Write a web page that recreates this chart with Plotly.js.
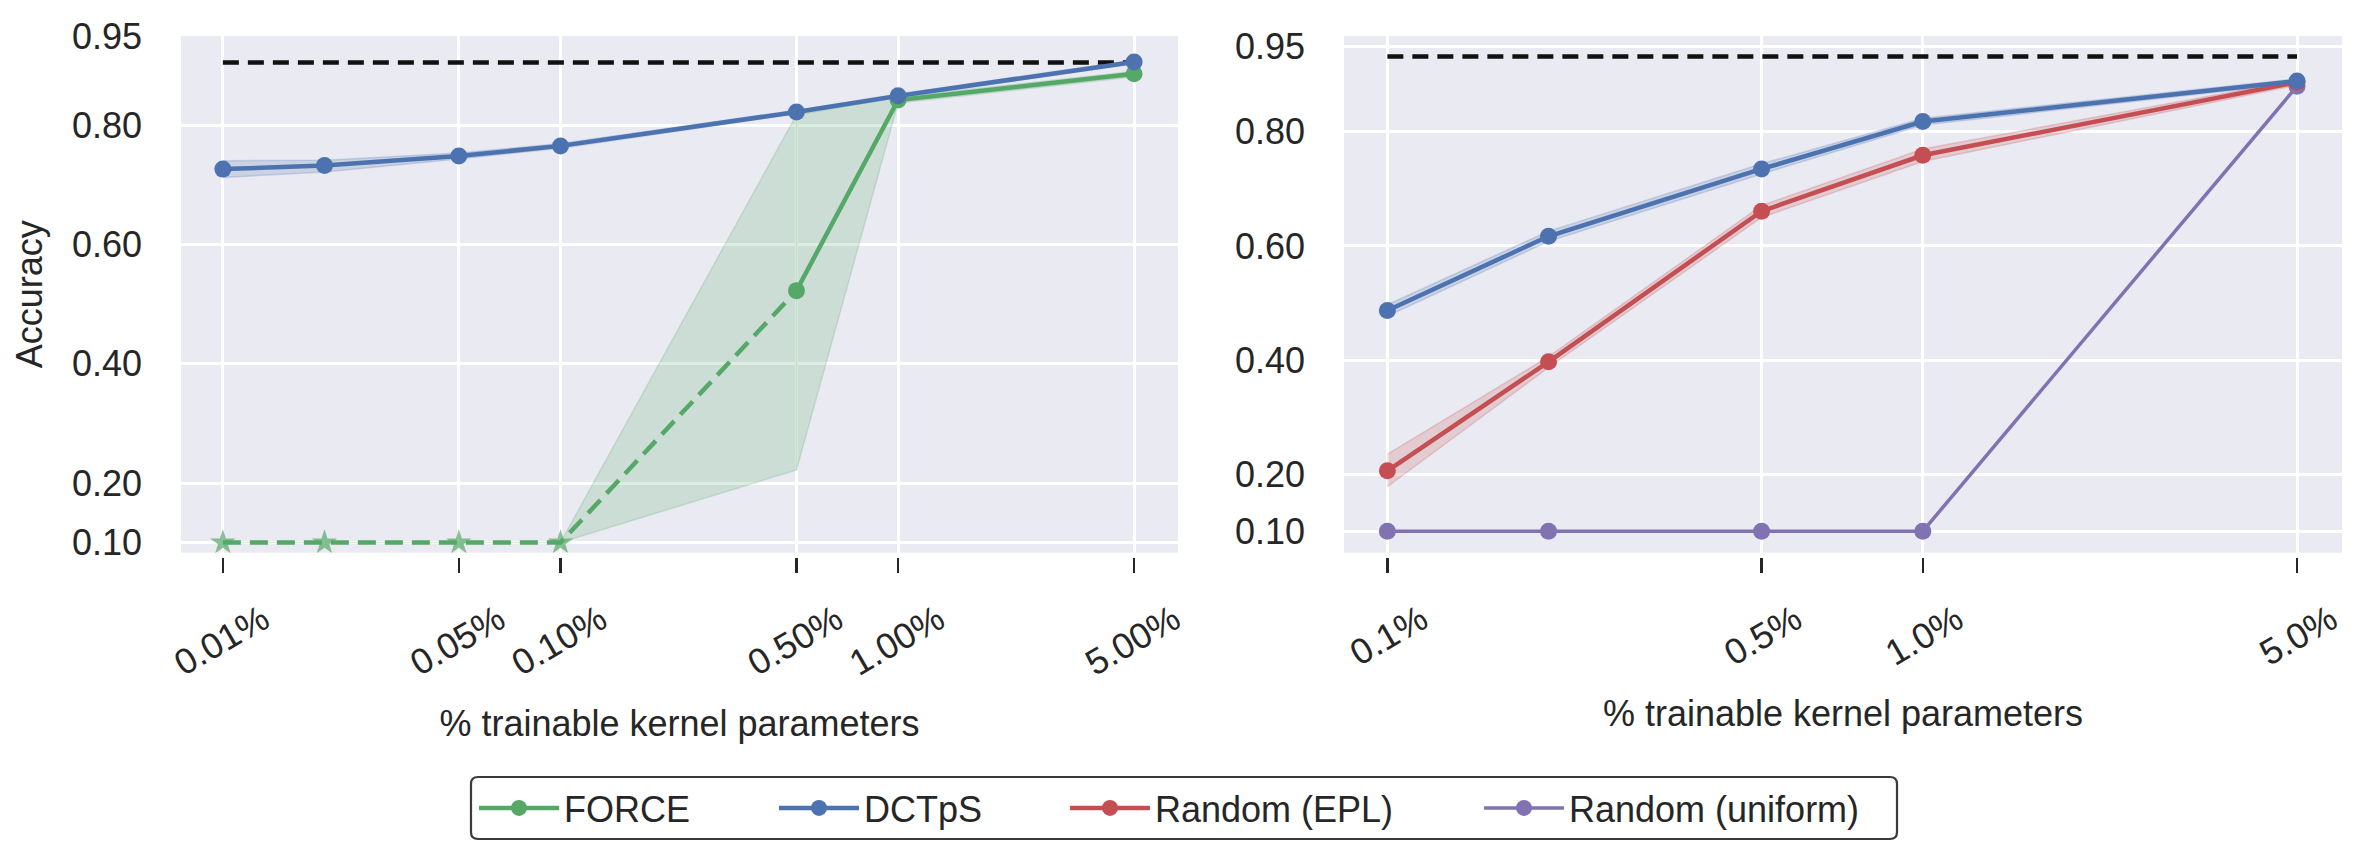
<!DOCTYPE html>
<html>
<head>
<meta charset="utf-8">
<script src="https://cdn.plot.ly/plotly-3.0.1.min.js"></script>
<style>
  html, body { margin: 0; padding: 0; background: #fff; }
  #chart { width: 2362px; height: 859px; }
</style>
</head>
<body>
<div id="chart"></div>
<script>
// ---- data ----
const leftX = [0.01, 0.02, 0.05, 0.1, 0.5, 1, 5];
const rightX = [0.1, 0.2, 0.5, 1, 5];

const leftTickVals = [0.01, 0.05, 0.1, 0.5, 1, 5];
const leftTickText = ['0.01%', '0.05%', '0.10%', '0.50%', '1.00%', '5.00%'];
const rightTickVals = [0.1, 0.5, 1, 5];
const rightTickText = ['0.1%', '0.5%', '1.0%', '5.0%'];
const yTickVals = [0.1, 0.2, 0.4, 0.6, 0.8, 0.95];
const yTickText = ['0.10', '0.20', '0.40', '0.60', '0.80', '0.95'];

// left panel
const leftDense = 0.906;
const forceMean = [0.1, 0.1, 0.1, 0.1, 0.523, 0.843, 0.887];
const forceLow  = [0.1, 0.1, 0.1, 0.1, 0.222, 0.838, 0.882];
const forceHigh = [0.1, 0.1, 0.1, 0.1, 0.818, 0.848, 0.891];
const forceFirstOk = 4; // from this point on FORCE trains (solid line)
const dctLeftMean = [0.727, 0.733, 0.749, 0.766, 0.823, 0.850, 0.907];
const dctLeftLow  = [0.713, 0.722, 0.744, 0.762, 0.820, 0.847, 0.904];
const dctLeftHigh = [0.741, 0.742, 0.754, 0.770, 0.826, 0.853, 0.910];

// right panel
const rightDense = 0.932;
const dctRightMean = [0.487, 0.617, 0.735, 0.818, 0.889];
const dctRightLow  = [0.477, 0.608, 0.726, 0.812, 0.885];
const dctRightHigh = [0.497, 0.626, 0.744, 0.824, 0.893];
const eplMean = [0.206, 0.397, 0.661, 0.759, 0.887];
const eplLow  = [0.178, 0.387, 0.650, 0.748, 0.882];
const eplHigh = [0.235, 0.406, 0.671, 0.770, 0.891];
const uniformMean = [0.1, 0.1, 0.1, 0.1, 0.880];

// ---- style ----
const INK = '#262626';
const FONT = 'Liberation Sans, Arial, sans-serif';
const C = {
    green: [85, 168, 104],
    blue: [76, 114, 176],
    red: [196, 78, 82],
    purple: [129, 114, 178]
};
const rgba = (c, a) => `rgba(${c[0]},${c[1]},${c[2]},${a})`;
const LW = 4.5;
const MS = 17;

function band(x, lo, hi, col, xa, ya) {
    return {
        x: x.concat(x.slice().reverse()),
        y: lo.concat(hi.slice().reverse()),
        xaxis: xa, yaxis: ya,
        type: 'scatter', mode: 'lines',
        fill: 'toself',
        fillcolor: rgba(col, 0.2),
        line: { color: rgba(col, 0.22), width: 1.5 },
        hoverinfo: 'skip', showlegend: false
    };
}

function series(x, y, col, xa, ya, extra) {
    return Object.assign({
        x: x, y: y, xaxis: xa, yaxis: ya,
        type: 'scatter', mode: 'lines+markers',
        line: { color: rgba(col, 1), width: LW },
        marker: { color: rgba(col, 1), size: MS, line: { width: 0 } },
        showlegend: false
    }, extra || {});
}

function flat(x, v, xa, ya) {
    return {
        x: [x[0], x[x.length - 1]], y: [v, v], xaxis: xa, yaxis: ya,
        type: 'scatter', mode: 'lines',
        line: { color: '#111', width: LW, dash: '16px,9px' },
        showlegend: false, hoverinfo: 'skip'
    };
}

const k = forceFirstOk;
const failX = leftX.slice(0, k + 1);
const okX = leftX.slice(k);

const data = [
    // left
    band(leftX, dctLeftLow, dctLeftHigh, C.blue, 'x', 'y'),
    band(failX, forceLow.slice(0, k + 1), forceHigh.slice(0, k + 1), C.green, 'x', 'y'),
    band(okX, forceLow.slice(k), forceHigh.slice(k), C.green, 'x', 'y'),
    flat(leftX, leftDense, 'x', 'y'),
    series(failX, forceMean.slice(0, k + 1), C.green, 'x', 'y', {
        line: { color: rgba(C.green, 1), width: LW, dash: '18px,9px' },
        marker: {
            color: rgba(C.green, 1), symbol: 'star', line: { width: 0 },
            size: failX.map((_, i) => i < k ? 19 : 0)
        }
    }),
    series(okX, forceMean.slice(k), C.green, 'x', 'y', { name: 'FORCE', showlegend: true, legend: 'legend' }),
    series(leftX, dctLeftMean, C.blue, 'x', 'y', { name: 'DCTpS', showlegend: true, legend: 'legend2' }),
    // right
    band(rightX, dctRightLow, dctRightHigh, C.blue, 'x2', 'y2'),
    band(rightX, eplLow, eplHigh, C.red, 'x2', 'y2'),
    flat(rightX, rightDense, 'x2', 'y2'),
    series(rightX, uniformMean, C.purple, 'x2', 'y2', {
        name: 'Random (uniform)', showlegend: true, legend: 'legend4',
        line: { color: rgba(C.purple, 1), width: 3.5 }
    }),
    series(rightX, eplMean, C.red, 'x2', 'y2', { name: 'Random (EPL)', showlegend: true, legend: 'legend3' }),
    series(rightX, dctRightMean, C.blue, 'x2', 'y2')
];

const W = 2362, H = 859;
const yDom = [1 - 552.7 / H, 1 - 36 / H];

const xBase = {
    type: 'log',
    showgrid: true, gridcolor: '#ffffff', gridwidth: 3,
    zeroline: false, showline: false,
    ticks: 'outside', ticklen: 15, tickwidth: 2.5, tickcolor: INK,
    tickangle: -30, ticklabelstandoff: 12,
    tickfont: { family: FONT, size: 36, color: INK },
    anchor: 'free', position: yDom[0] - 4 / H,
    title: {
        text: '% trainable kernel parameters',
        font: { family: FONT, size: 36, color: INK },
        standoff: 28
    }
};
const yBase = {
    range: [0.083, 0.9505],
    tickvals: yTickVals, ticktext: yTickText,
    showgrid: true, gridcolor: '#ffffff', gridwidth: 3,
    zeroline: false, showline: false,
    ticks: '', ticklabelstandoff: 38,
    tickfont: { family: FONT, size: 36, color: INK },
    domain: yDom
};

// legend: one small legend per entry, inside a shared rounded frame
const legBox = { x0: 471, x1: 1897, y0: 777, y1: 839 };
const legStarts = [484, 784, 1075, 1489];
function legendAt(px) {
    return {
        orientation: 'h',
        x: (px - 10) / W, xanchor: 'left',
        y: 1 - (legBox.y0 + legBox.y1) / 2 / H, yanchor: 'middle',
        bgcolor: 'rgba(0,0,0,0)', borderwidth: 0,
        font: { family: FONT, size: 36, color: INK },
        itemwidth: 80
    };
}
function roundedBox(b, r) {
    const X = px => px / W, Y = py => 1 - py / H;
    return 'M' + X(b.x0 + r) + ',' + Y(b.y0) +
        ' L' + X(b.x1 - r) + ',' + Y(b.y0) +
        ' Q' + X(b.x1) + ',' + Y(b.y0) + ' ' + X(b.x1) + ',' + Y(b.y0 + r) +
        ' L' + X(b.x1) + ',' + Y(b.y1 - r) +
        ' Q' + X(b.x1) + ',' + Y(b.y1) + ' ' + X(b.x1 - r) + ',' + Y(b.y1) +
        ' L' + X(b.x0 + r) + ',' + Y(b.y1) +
        ' Q' + X(b.x0) + ',' + Y(b.y1) + ' ' + X(b.x0) + ',' + Y(b.y1 - r) +
        ' L' + X(b.x0) + ',' + Y(b.y0 + r) +
        ' Q' + X(b.x0) + ',' + Y(b.y0) + ' ' + X(b.x0 + r) + ',' + Y(b.y0) + ' Z';
}

const layout = {
    width: W, height: H,
    margin: { l: 0, r: 0, t: 0, b: 0 },
    paper_bgcolor: '#ffffff',
    plot_bgcolor: '#EAEAF2',
    font: { family: FONT, color: INK },
    showlegend: true,
    legend: legendAt(legStarts[0]),
    legend2: legendAt(legStarts[1]),
    legend3: legendAt(legStarts[2]),
    legend4: legendAt(legStarts[3]),
    shapes: [{
        type: 'path', xref: 'paper', yref: 'paper',
        path: roundedBox(legBox, 7),
        line: { color: '#3a3a3a', width: 2.2 },
        fillcolor: '#ffffff', layer: 'above'
    }],
    xaxis: Object.assign({}, xBase, {
        domain: [181 / W, 1178 / W],
        range: [-2.124, 0.829],
        tickvals: leftTickVals, ticktext: leftTickText,
        ticklabelshift: 40
    }),
    yaxis: Object.assign({}, yBase, {
        anchor: 'x',
        title: { text: 'Accuracy', font: { family: FONT, size: 36, color: INK }, standoff: 18 }
    }),
    xaxis2: Object.assign({}, xBase, {
        domain: [1344 / W, 2342 / W],
        range: [-1.081, 0.783],
        tickvals: rightTickVals, ticktext: rightTickText,
        ticklabelshift: 34
    }),
    yaxis2: Object.assign({}, yBase, {
        anchor: 'x2',
        range: [0.0624, 0.968]
    })
};

Plotly.newPlot('chart', data, layout, { displayModeBar: false, staticPlot: true });
</script>
</body>
</html>
